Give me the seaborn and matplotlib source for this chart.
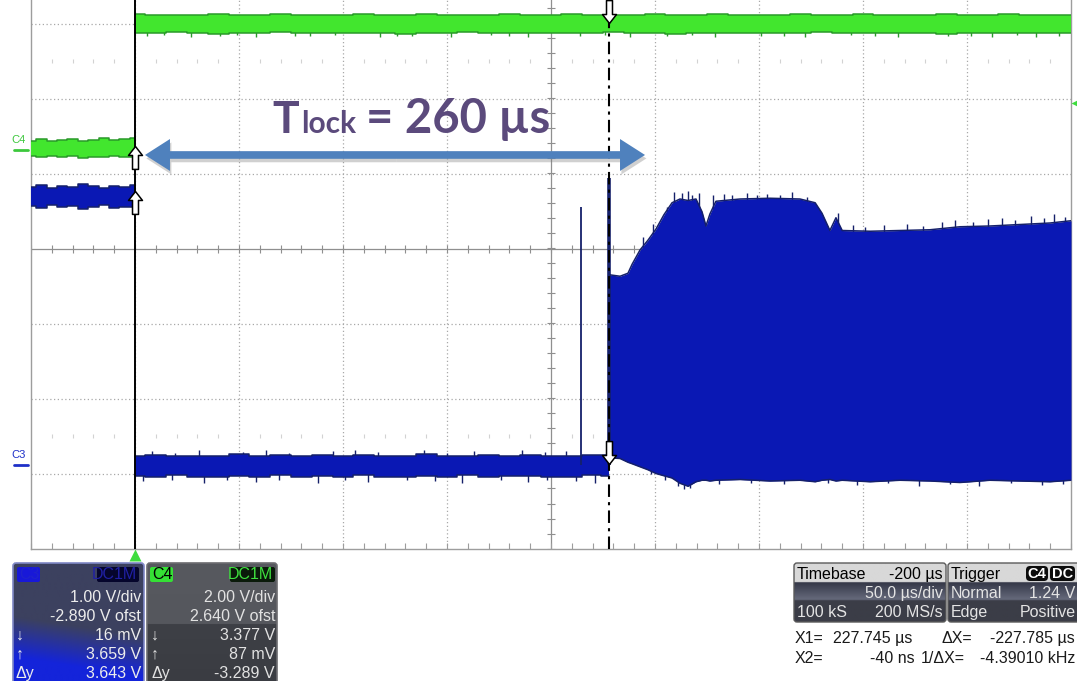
import numpy as np
import matplotlib
matplotlib.use("Agg")
import matplotlib.pyplot as plt
import seaborn as sns
from matplotlib.path import Path
from matplotlib.patches import FancyBboxPatch, FancyArrowPatch, ArrowStyle
from matplotlib.colors import LinearSegmentedColormap, to_rgb
from matplotlib.transforms import blended_transform_factory, ScaledTranslation

# ---------------- scope settings ----------------
TIME_DIV = 50.0          # µs/div
TIME_LEFT = -50.0        # µs at left edge of the grid
N_XDIV, N_YDIV = 10, 8
C3_VDIV, C3_OFST = 1.00, -2.890
C4_VDIV, C4_OFST = 2.00, 2.640
TRIG_LEVEL = 1.24        # V on C4
X1_CURSOR = 227.745      # µs
X2_CURSOR = -0.040       # µs

# cursor / trace intersections (V)
c4_at_x1, c4_at_x2 = 3.377, 0.087
c3_at_x1, c3_at_x2 = 0.016, 3.659

# ---------------- C4 (green) trace envelopes ----------------
c4_low_t = [-50, -45, -40, -35, -30, -25, -20, -15, -10, -5, 0]
c4_low_top = [0.24, 0.27, 0.23, 0.25, 0.29, 0.24, 0.26, 0.31, 0.25, 0.27, 0.30]
c4_low_bot = [-0.18, -0.21, -0.17, -0.19, -0.18, -0.22, -0.19, -0.20, -0.17, -0.20, -0.19]

c4_high_t = list(range(0, 451, 10))
c4_high_top = [3.61, 3.60, 3.60, 3.59, 3.61, 3.59, 3.60, 3.62, 3.59, 3.60,
               3.60, 3.61, 3.59, 3.60, 3.61, 3.59, 3.60, 3.60, 3.62, 3.59,
               3.60, 3.61, 3.59, 3.60, 3.60, 3.61, 3.59, 3.60, 3.61, 3.59,
               3.60, 3.60, 3.62, 3.59, 3.60, 3.61, 3.59, 3.60, 3.60, 3.61,
               3.59, 3.60, 3.61, 3.59, 3.60, 3.60]
c4_high_bot = [3.12, 3.10, 3.13, 3.11, 3.09, 3.12, 3.10, 3.13, 3.10, 3.11,
               3.12, 3.10, 3.12, 3.09, 3.12, 3.11, 3.13, 3.10, 3.11, 3.12,
               3.10, 3.12, 3.11, 3.13, 3.10, 3.11, 3.09, 3.12, 3.11, 3.12,
               3.10, 3.12, 3.11, 3.13, 3.10, 3.11, 3.12, 3.10, 3.12, 3.09,
               3.12, 3.11, 3.10, 3.12, 3.11, 3.11]
c4_spike_t = [6, 14, 27, 41, 49, 58, 77, 84, 96, 118, 126, 133, 152, 171, 180, 189,
              214, 226, 238, 256, 268, 279, 301, 312, 322, 344, 356, 367, 391, 402,
              412, 424, 433, 444]
c4_spike_v = [3.02, 3.05, 3.00, 3.03, 3.06, 3.01, 3.04, 3.02, 3.05, 3.00, 3.04, 3.03,
              3.01, 3.05, 3.02, 3.00, 3.04, 3.06, 3.01, 3.03, 3.05, 3.00, 3.02, 3.04,
              3.01, 3.05, 3.03, 3.00, 3.04, 3.02, 3.01, 3.05, 3.00, 3.03]

# ---------------- C3 (blue) trace envelopes ----------------
c3_pre_t = [-50, -45, -40, -35, -30, -25, -20, -15, -10, -5, 0]
c3_pre_top = [3.71, 3.74, 3.70, 3.72, 3.71, 3.75, 3.72, 3.70, 3.73, 3.71, 3.74]
c3_pre_bot = [3.46, 3.43, 3.47, 3.44, 3.46, 3.42, 3.45, 3.47, 3.43, 3.45, 3.44]

c3_low_t = [0, 10, 20, 30, 40, 50, 60, 70, 80, 90, 100, 110,
            120, 130, 140, 150, 160, 170, 180, 190, 200, 210, 220, 228]
c3_low_top = [0.13, 0.14, 0.12, 0.13, 0.13, 0.15, 0.12, 0.14, 0.13, 0.14, 0.12, 0.14,
              0.13, 0.13, 0.15, 0.12, 0.13, 0.14, 0.13, 0.14, 0.13, 0.12, 0.14, 0.14]
c3_low_bot = [-0.14, -0.16, -0.13, -0.15, -0.16, -0.14, -0.15, -0.13, -0.16, -0.14, -0.15, -0.13,
              -0.15, -0.16, -0.14, -0.15, -0.13, -0.16, -0.14, -0.14, -0.16, -0.15, -0.13, -0.14]
c3_up_spike_t = [8, 19, 31, 52, 63, 74, 95, 106, 117, 139, 150, 163, 186, 197, 207]
c3_up_spike_v = [0.19, 0.17, 0.21, 0.18, 0.20, 0.17, 0.19, 0.21, 0.18, 0.20, 0.17, 0.19,
                 0.21, 0.18, 0.19]
c3_dn_spike_t = [4, 18, 33, 44, 58, 69, 88, 101, 112, 131, 144, 157, 176, 189, 198, 212, 221]
c3_dn_spike_v = [-0.21, -0.19, -0.23, -0.20, -0.22, -0.19, -0.24, -0.20, -0.22, -0.19,
                 -0.21, -0.23, -0.20, -0.22, -0.19, -0.21, -0.23]

burst_t = [228.0, 233.2, 237.0, 239.0, 242.8, 246.6, 250.5, 254.3, 258.2, 262.0,
           265.9, 269.7, 272.6, 274.5, 276.4, 279.3, 290.9, 305.3, 319.7, 327.0,
           330.3, 334.1, 337.0, 340.0, 353.4, 367.8, 382.2, 396.6, 411.0, 425.5,
           439.9, 450.0]
burst_top = [2.54, 2.52, 2.56, 2.68, 2.87, 3.00, 3.15, 3.34, 3.50, 3.55,
             3.53, 3.55, 3.38, 3.19, 3.35, 3.52, 3.55, 3.56, 3.55, 3.50,
             3.36, 3.13, 3.30, 3.13, 3.12, 3.13, 3.14, 3.18, 3.19, 3.21,
             3.23, 3.26]
burst_bot = [0.10, 0.09, 0.04, 0.02, -0.02, -0.06, -0.11, -0.14, -0.17, -0.24,
             -0.28, -0.22, -0.20, -0.20, -0.21, -0.20, -0.19, -0.21, -0.20, -0.22,
             -0.20, -0.19, -0.21, -0.20, -0.22, -0.20, -0.21, -0.23, -0.20, -0.21,
             -0.22, -0.20]
burst_spike_t = [244, 249, 256, 259, 263, 266, 268, 271, 278, 283, 287, 294, 299, 304,
                 310, 316, 323, 329, 338, 345, 351, 360, 371, 379, 388, 394, 403, 410,
                 417, 423, 431, 437, 442, 447]
burst_spike_v = [3.05, 3.22, 3.45, 3.64, 3.63, 3.66, 3.61, 3.63, 3.60, 3.62, 3.61, 3.63,
                 3.60, 3.62, 3.61, 3.64, 3.58, 3.30, 3.36, 3.20, 3.18, 3.21, 3.22, 3.19,
                 3.24, 3.27, 3.25, 3.28, 3.30, 3.27, 3.32, 3.30, 3.35, 3.31]
burst_dn_spike_t = [248, 255, 261, 264, 267, 281, 296, 312, 333, 347, 362, 377, 392,
                    406, 421, 436, 446]
burst_dn_spike_v = [-0.12, -0.19, -0.27, -0.31, -0.30, -0.25, -0.24, -0.25, -0.24, -0.26,
                    -0.24, -0.27, -0.25, -0.28, -0.24, -0.26, -0.25]

# isolated glitches on C3
glitch_t = [214.4, 227.9]
glitch_v = [3.44, 3.83]

# ---------------- readout panels ----------------
c3_rows = ["1.00 V/div", "-2.890 V ofst", "16 mV", "3.659 V", "3.643 V"]
c4_rows = ["2.00 V/div", "2.640 V ofst", "3.377 V", "87 mV", "-3.289 V"]
row_syms = ["", "", "\u2193", "\u2191", "\u0394y"]


def c3_div(v):
    return (np.asarray(v, dtype=float) + C3_OFST) / C3_VDIV


def c4_div(v):
    return (np.asarray(v, dtype=float) + C4_OFST) / C4_VDIV


sns.set_theme(style="white")
plt.rcParams["font.family"] = ["Liberation Sans", "DejaVu Sans"]

W, H = 1077, 681
fig = plt.figure(figsize=(W / 100, H / 100), dpi=100)
fig.patch.set_facecolor("white")

# grid area: 10 x 8 divisions of 104 x 75 px; the top of the screen is cut away
ax = fig.add_axes([31 / W, (H - 548.5) / H, 1040 / W, 600 / H])
t_min, t_max = TIME_LEFT, TIME_LEFT + N_XDIV * TIME_DIV
ax.set_xlim(t_min, t_max)
ax.set_ylim(-N_YDIV / 2, N_YDIV / 2)
ax.set_xticks([])
ax.set_yticks([])
ax.set_facecolor("white")
for side in ["left", "right", "bottom", "top"]:
    ax.spines[side].set_color("#9d9d9d")
    ax.spines[side].set_linewidth(1.0)

GRID = "#a8a8a8"
dotted = (0, (1, 2))
for k in range(1, N_XDIV):
    x = t_min + k * TIME_DIV
    if k == N_XDIV // 2:
        ax.axvline(x, color="#8f8f8f", lw=0.9, zorder=1)
    else:
        ax.axvline(x, color=GRID, lw=0.9, ls=dotted, zorder=1)
for d in range(-N_YDIV // 2 + 1, N_YDIV // 2):
    if d == 0:
        ax.axhline(0, color="#8f8f8f", lw=0.9, zorder=1)
    else:
        ax.axhline(d, color=GRID, lw=0.9, ls=dotted, zorder=1)

# minor ticks on the centre axes and the bottom edge
minor_t = np.arange(t_min, t_max + 0.1, TIME_DIV / 5)
minor_d = np.arange(-4, 4.01, 0.2)
t_center = t_min + N_XDIV / 2 * TIME_DIV
ax.plot(minor_t, np.zeros_like(minor_t), ls="none", marker="|", ms=6, mew=0.8,
        color="#8f8f8f", zorder=1)
ax.plot(np.full_like(minor_d, t_center), minor_d, ls="none", marker="_", ms=6, mew=0.8,
        color="#8f8f8f", zorder=1)
ax.plot(minor_t, np.full_like(minor_t, -4), ls="none", marker=2, ms=4, mew=0.8,
        color="#9d9d9d", zorder=1, clip_on=False)
faint_t = np.array([t for t in minor_t if (t - t_min) % TIME_DIV != 0])
for d in (2.5, -2.5):
    ax.plot(faint_t, np.full_like(faint_t, d), ls="none", marker="|", ms=3, mew=0.8,
            color="#d2d2d2", zorder=1)

GREEN_FACE, GREEN_EDGE = "#42e62e", "#2a9a2a"
BLUE_FACE, BLUE_EDGE = "#0a18b4", "#15206a"


def band(t, top, bot, face, edge, stepped=True):
    step = "mid" if stepped else None
    ax.fill_between(t, bot, top, step=step, color=face, lw=0, zorder=3)
    for env in (top, bot):
        sns.lineplot(x=t, y=env, ax=ax, color=edge, lw=1.1, estimator=None, sort=False,
                     drawstyle="steps-mid" if stepped else "default", zorder=3.2)


def spikes(t, to_div, v, color, base_v, lw=1.0):
    # drawn beneath the band fill, so only the part sticking out shows
    ax.vlines(t, to_div(base_v), to_div(v), colors=color, lw=lw, zorder=2.9)


band(c4_low_t, c4_div(c4_low_top), c4_div(c4_low_bot), GREEN_FACE, GREEN_EDGE)
band(c4_high_t, c4_div(c4_high_top), c4_div(c4_high_bot), GREEN_FACE, GREEN_EDGE)
spikes(c4_spike_t, c4_div, c4_spike_v, GREEN_EDGE, 3.30)
band(c3_pre_t, c3_div(c3_pre_top), c3_div(c3_pre_bot), BLUE_FACE, BLUE_EDGE)
band(c3_low_t, c3_div(c3_low_top), c3_div(c3_low_bot), BLUE_FACE, BLUE_EDGE)
spikes(c3_up_spike_t, c3_div, c3_up_spike_v, BLUE_EDGE, 0.0)
spikes(c3_dn_spike_t, c3_div, c3_dn_spike_v, BLUE_EDGE, 0.0)
band(burst_t, c3_div(burst_top), c3_div(burst_bot), BLUE_FACE, BLUE_EDGE, stepped=False)
spikes(burst_spike_t, c3_div, burst_spike_v, BLUE_EDGE, 2.0)
spikes(burst_dn_spike_t, c3_div, burst_dn_spike_v, BLUE_EDGE, 1.0)
ax.vlines(glitch_t, c3_div(0), c3_div(glitch_v), colors=BLUE_EDGE, lw=[1.3, 2.6], zorder=3.3)

# time cursors
ax.axvline(X2_CURSOR, color="black", lw=1.4, zorder=4)
ax.axvline(X1_CURSOR, color="black", lw=1.5, dashes=(6, 2.5, 1.5, 2.5), zorder=4)

# hollow cursor arrows at the trace intersections (tip on the trace)
up_arrow = Path([(0, 0), (-7, -9), (-3, -9), (-3, -23), (3, -23), (3, -9), (7, -9), (0, 0)],
                closed=True)
down_arrow = Path([(0, 0), (-7, 9), (-3, 9), (-3, 23), (3, 23), (3, 9), (7, 9), (0, 0)],
                  closed=True)
for t, d in [(X2_CURSOR, c4_div(c4_at_x2)), (X2_CURSOR, c3_div(c3_at_x2))]:
    ax.plot(t, d, marker=up_arrow, ms=33, mfc="white", mec="black", mew=1.1, zorder=5)
for t, d in [(X1_CURSOR, c4_div(c4_at_x1)), (X1_CURSOR, c3_div(c3_at_x1))]:
    ax.plot(t, d, marker=down_arrow, ms=33, mfc="white", mec="black", mew=1.1, zorder=5)

# trigger markers
bx = blended_transform_factory(ax.transAxes, ax.transData)
by = blended_transform_factory(ax.transData, ax.transAxes)
ax.plot(1.0045, c4_div(TRIG_LEVEL), marker="<", ms=7, color="#3fdc3f", mec="none",
        transform=bx, clip_on=False, zorder=6)
ax.plot(0, -0.011, marker="^", ms=8, color="#3fdc3f", mec="none",
        transform=by, clip_on=False, zorder=6)

# channel ground markers on the left
for name, d, col in [("C4", c4_div(0), "#3cc83c"), ("C3", c3_div(0), "#1e30c8")]:
    ax.plot([-0.0165, -0.003], [d, d], color=col, lw=2, transform=bx, clip_on=False)
    ax.annotate(name, xy=(-0.0185, d), xycoords=bx, xytext=(0, 3.5), textcoords="offset points",
                ha="left", va="bottom", fontsize=8, color=col, annotation_clip=False)

# lock-time annotation
TXT = "#5b4a7c"
ARROW_Y = 1.247
arrow_left, arrow_right = 4.8, 245.2
mid = (arrow_left + arrow_right) / 2
style = ArrowStyle("simple", head_length=18, head_width=23, tail_width=5.5)
shadow_tr = ax.transData + ScaledTranslation(1 / 72, -2.5 / 72, fig.dpi_scale_trans)
for end in (arrow_left, arrow_right):
    ax.add_patch(FancyArrowPatch((mid, ARROW_Y), (end, ARROW_Y), arrowstyle=style,
                                 mutation_scale=1, shrinkA=0, shrinkB=0, color="#7a7a7a",
                                 alpha=0.35, lw=0, transform=shadow_tr, zorder=6))
for end in (arrow_left, arrow_right):
    ax.add_patch(FancyArrowPatch((mid, ARROW_Y), (end, ARROW_Y), arrowstyle=style,
                                 mutation_scale=1, shrinkA=0, shrinkB=0, color="#4f81bd",
                                 lw=0, zorder=7))

base_d = 1.54
LABEL_FONT = ["Lato", "DejaVu Sans"]
ax.text(65.9, base_d, "T", fontsize=32, fontweight="bold", family=LABEL_FONT,
        color=TXT, ha="left", va="baseline", zorder=8)
ax.text(80.0, base_d, "lock", fontsize=21.5, fontweight="bold", family=LABEL_FONT,
        color=TXT, ha="left", va="baseline", zorder=8)
ax.text(111.0, base_d, "= 260 \u00b5s", fontsize=34, fontweight="bold",
        family=LABEL_FONT, color=TXT, ha="left", va="baseline", zorder=8)

# ---------------- readout panels (pixel overlay) ----------------
ov = fig.add_axes([0, 0, 1, 1], zorder=10)
ov.axis("off")


def limits():
    ov.set_xlim(0, W)
    ov.set_ylim(H, 0)


limits()


def rounded(x0, y0, x1, y1, r=3, ec="none", lw=1.0, fc="none", z=2):
    p = FancyBboxPatch((x0, y0), x1 - x0, y1 - y0, boxstyle=f"round,pad=0,rounding_size={r}",
                       fc=fc, ec=ec, lw=lw, zorder=z)
    ov.add_patch(p)
    return p


def fill_image(rgb, x0, y0, x1, y1, clip):
    im = ov.imshow(rgb, extent=(x0, x1, y1, y0), aspect="auto", origin="upper",
                   interpolation="bilinear", zorder=1)
    im.set_clip_path(clip)
    limits()


def vgrad(stops, n=120):
    cmap = LinearSegmentedColormap.from_list("g", stops)
    v = np.linspace(0, 1, n)
    return cmap(v)[:, None, :3]


TEXT_KW = dict(fontsize=11.5, family=["Liberation Sans", "DejaVu Sans"])
ROW_BASE = [602, 621, 640, 659, 678]

# C3 panel: slate on top, blue glow toward the lower left
x0, y0, x1, y1 = 13, 563, 144, 685
u = np.linspace(0, 1, 80)[None, :]
v = np.linspace(0, 1, 80)[:, None]
w = np.clip(3.0 * (v - 0.52) + 0.5 * (0.5 - u), 0, 1)[..., None]
dark = np.array(to_rgb("#3c415f"))
blue = np.array(to_rgb("#1424da"))
frame = rounded(x0, y0, x1, y1, ec="#7f88c6", lw=1.2, z=3)
fill_image(dark * (1 - w) + blue * w, x0, y0, x1, y1, frame)
rounded(17, 567, 40, 582, r=2, fc="#1818d8", z=4)
ov.text(19, 579, "C3", color="#1f22cc", va="baseline", zorder=5, **TEXT_KW)
rounded(97, 567, 139, 582, r=2, fc="#05052c", z=4)
ov.text(137, 579, "DC1M", color="#2020a4", ha="right", va="baseline", zorder=5, **TEXT_KW)
for yb, s, sym in zip(ROW_BASE, c3_rows, row_syms):
    ov.text(141, yb, s, color="#ececec", ha="right", va="baseline", zorder=5, **TEXT_KW)
    if sym:
        ov.text(16, yb, sym, color="#ececec", ha="left", va="baseline", zorder=5, **TEXT_KW)

# C4 panel: grey, darker lower half
x0, y0, x1, y1 = 147, 563, 277, 685
frame = rounded(x0, y0, x1, y1, ec="#6c6c70", lw=1.2, z=3)
fill_image(vgrad([(0, "#57595f"), (0.5, "#55575d"), (0.505, "#3e4046"), (1, "#3a3c42")]),
           x0, y0, x1, y1, frame)
rounded(150, 567, 173, 582, r=2, fc="#35e035", z=4)
ov.text(152, 579, "C4", color="black", va="baseline", zorder=5, **TEXT_KW)
rounded(230, 567, 275, 582, r=2, fc="#0a1a0a", z=4)
ov.text(273, 579, "DC1M", color="#3ee03e", ha="right", va="baseline", zorder=5, **TEXT_KW)
for yb, s, sym in zip(ROW_BASE, c4_rows, row_syms):
    ov.text(275, yb, s, color="#e2e2e2", ha="right", va="baseline", zorder=5, **TEXT_KW)
    if sym:
        ov.text(151, yb, sym, color="#e2e2e2", ha="left", va="baseline", zorder=5, **TEXT_KW)

# Timebase panel
body = [(0, "#d8d8d8"), (0.32, "#d8d8d8"), (0.325, "#343747"), (0.62, "#666a7c"),
        (0.64, "#3b3d47"), (1, "#3b3d47")]
x0, y0, x1, y1 = 794, 563, 946, 622
frame = rounded(x0, y0, x1, y1, ec="#5a5a5a", lw=1.0, z=3)
fill_image(vgrad(body), x0, y0, x1, y1, frame)
ov.text(797, 579, "Timebase", color="black", va="baseline", zorder=5, **TEXT_KW)
ov.text(943, 579, "-200 \u00b5s", color="black", ha="right", va="baseline", zorder=5, **TEXT_KW)
ov.text(943, 598, "50.0 \u00b5s/div", color="#e4e4e4", ha="right", va="baseline", zorder=5,
        **TEXT_KW)
ov.text(797, 617, "100 kS", color="#e4e4e4", va="baseline", zorder=5, **TEXT_KW)
ov.text(943, 617, "200 MS/s", color="#e4e4e4", ha="right", va="baseline", zorder=5, **TEXT_KW)

# Trigger panel
x0, y0, x1, y1 = 948, 563, 1085, 622
frame = rounded(x0, y0, x1, y1, ec="#5a5a5a", lw=1.0, z=3)
fill_image(vgrad(body), x0, y0, x1, y1, frame)
ov.text(951, 579, "Trigger", color="black", va="baseline", zorder=5, **TEXT_KW)
rounded(1026, 566, 1048, 581, r=4, fc="#0c0c0c", z=4)
ov.text(1037, 578.5, "C4", color="white", ha="center", va="baseline", zorder=5,
        fontweight="bold", fontsize=10.5, family=["Liberation Sans", "DejaVu Sans"])
rounded(1050, 566, 1075, 581, r=4, fc="#0c0c0c", z=4)
ov.text(1062.5, 578.5, "DC", color="white", ha="center", va="baseline", zorder=5,
        fontweight="bold", fontsize=10.5, family=["Liberation Sans", "DejaVu Sans"])
ov.text(951, 598, "Normal", color="#e4e4e4", va="baseline", zorder=5, **TEXT_KW)
ov.text(1075, 598, f"{TRIG_LEVEL:.2f} V", color="#e4e4e4", ha="right", va="baseline",
        zorder=5, **TEXT_KW)
ov.text(951, 617, "Edge", color="#e4e4e4", va="baseline", zorder=5, **TEXT_KW)
ov.text(1076, 617, "Positive", color="#e4e4e4", ha="right", va="baseline", zorder=5, **TEXT_KW)

# cursor readouts
dx = X2_CURSOR - X1_CURSOR
RD = dict(color="#1a1a1a", va="baseline", zorder=5, **TEXT_KW)
ov.text(795, 643, "X1=", **RD)
ov.text(833, 643, f"{X1_CURSOR:.3f} \u00b5s", **RD)
ov.text(942, 643, "\u0394X=", **RD)
ov.text(1075, 643, f"{dx:.3f} \u00b5s", ha="right", **RD)
ov.text(795, 663, "X2=", **RD)
ov.text(915, 663, f"{X2_CURSOR * 1000:.0f} ns", ha="right", **RD)
ov.text(921, 663, "1/\u0394X=", **RD)
ov.text(1075, 663, f"{1000 / dx:.5f} kHz", ha="right", **RD)

fig.savefig("out.png", dpi=100, facecolor="white")
